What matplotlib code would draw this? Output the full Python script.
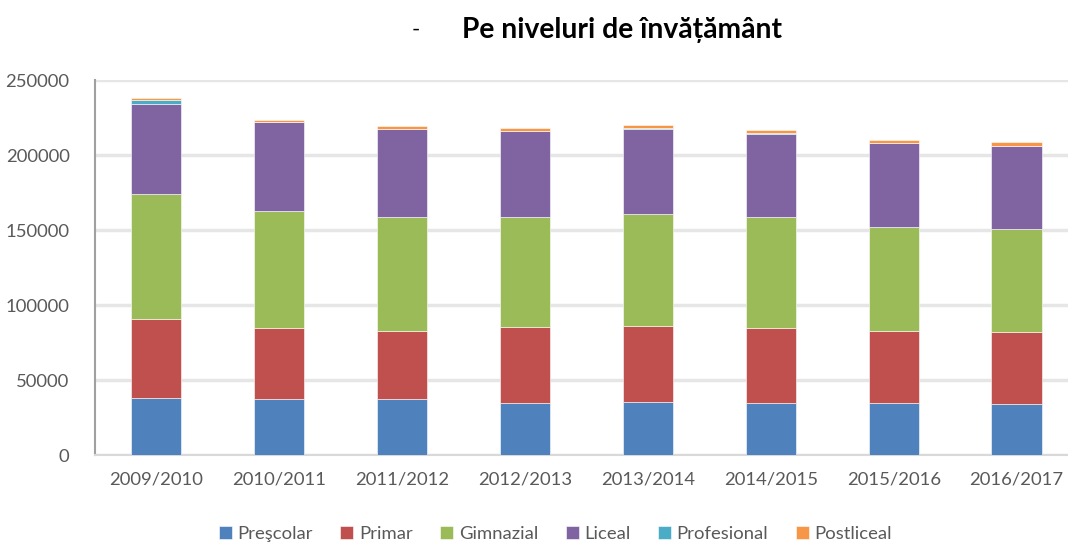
import matplotlib
matplotlib.use('Agg')
import matplotlib.pyplot as plt
import numpy as np

years = ['2009/2010', '2010/2011', '2011/2012', '2012/2013',
         '2013/2014', '2014/2015', '2015/2016', '2016/2017']

prescolar = [38000, 37300, 37100, 34700, 35300, 34700, 34400, 33800]
primar = [52400, 47400, 45800, 50800, 50900, 50200, 48500, 48400]
gimnazial = [83600, 77800, 75500, 73400, 74700, 73500, 69300, 68700]
liceal = [59800, 59500, 58900, 56900, 56300, 55800, 55600, 54900]
profesional = [2900, 300, 200, 200, 500, 200, 300, 400]
postliceal = [1300, 1000, 2100, 2000, 2000, 2100, 1900, 2500]

series = [('Preşcolar', prescolar, '#4f81bd'),
          ('Primar', primar, '#c0504d'),
          ('Gimnazial', gimnazial, '#9bbb59'),
          ('Liceal', liceal, '#8064a2'),
          ('Profesional', profesional, '#4bacc6'),
          ('Postliceal', postliceal, '#f79646')]

plt.rcParams['font.family'] = ['Lato', 'DejaVu Sans']

fig = plt.figure(figsize=(10.68, 5.43), dpi=100)
ax = fig.add_axes([0.0885, 0.162, 0.921, 0.6906])

x = np.arange(len(years))
bottom = np.zeros(len(years))
for name, vals, color in series:
    ax.bar(x, vals, width=0.41, bottom=bottom, color=color, label=name,
           edgecolor='white', linewidth=0.4, zorder=3)
    bottom += np.array(vals)

ax.set_xlim(-0.5, len(years) - 0.5)
ax.set_ylim(0, 250000)
ax.set_yticks(np.arange(0, 250001, 50000))
ax.set_xticks(x)
ax.set_xticklabels(years)
ax.yaxis.grid(True, color='#e6e6e6', linewidth=2.5, zorder=0)
ax.set_axisbelow(True)
ax.tick_params(axis='both', length=0, labelsize=13.3, labelcolor='#595959')
ax.tick_params(axis='x', pad=12)
ax.tick_params(axis='y', pad=18)

for side in ['top', 'right']:
    ax.spines[side].set_visible(False)
ax.spines['left'].set_color('#a0a0a0')
ax.spines['left'].set_linewidth(1.5)
ax.spines['bottom'].set_color('#d9d9d9')
ax.spines['bottom'].set_linewidth(1.5)

fig.text(0.389, 0.945, '-', fontsize=16, ha='center', va='center', color='black')
fig.text(0.582, 0.945, 'Pe niveluri de învățământ', fontsize=20.3, fontweight='bold',
         ha='center', va='center', color='black')

fig.legend(loc='center', bbox_to_anchor=(0.52, 0.017), ncol=6, frameon=False,
           fontsize=13.3, handlelength=0.7, handleheight=0.7, handletextpad=0.3,
           columnspacing=1.5, labelcolor='#595959')

fig.savefig('out.png', dpi=100)
